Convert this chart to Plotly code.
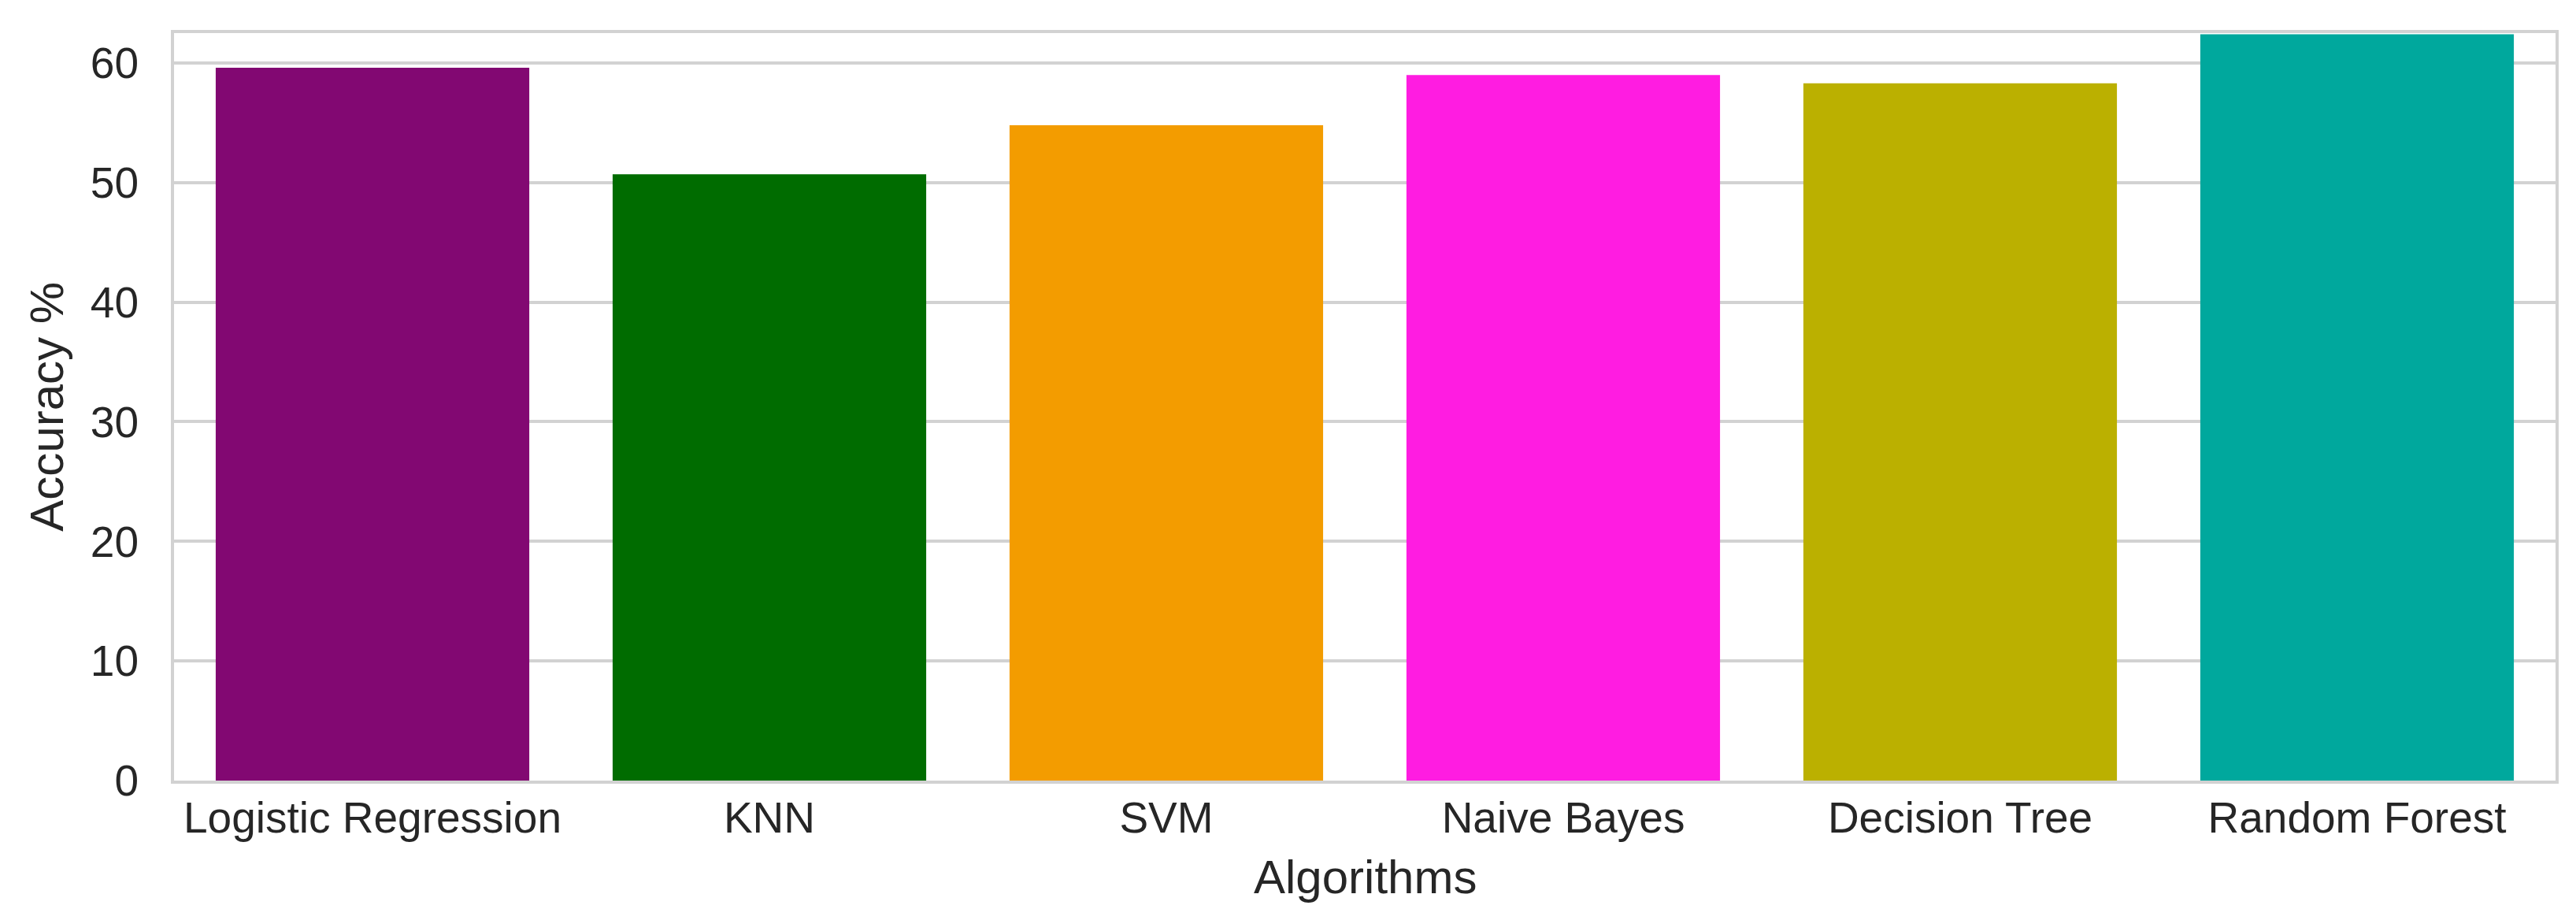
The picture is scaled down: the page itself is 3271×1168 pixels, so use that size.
import plotly.graph_objects as go

algorithms = ["Logistic Regression", "KNN", "SVM", "Naive Bayes", "Decision Tree", "Random Forest"]
accuracy = [59.6, 50.7, 54.8, 59.0, 58.3, 62.4]
bar_colors = ["#820872", "#006c00", "#f39c00", "#ff1ce1", "#bbb000", "#00a89d"]
y_ticks = [0, 10, 20, 30, 40, 50, 60]

text_color = "#262626"
grid_color = "#d2d2d2"
font_family = "Liberation Sans, Arial, sans-serif"

fig = go.Figure(
    go.Bar(
        x=algorithms,
        y=accuracy,
        marker=dict(color=bar_colors, line=dict(width=0)),
        width=0.79,
    )
)

fig.update_layout(
    width=3271,
    height=1168,
    margin=dict(l=213, r=34, t=34, b=185, autoexpand=False),
    paper_bgcolor="white",
    plot_bgcolor="white",
    font=dict(family=font_family, color=text_color, size=55),
    showlegend=False,
    bargap=0.2,
    annotations=[
        dict(text="Algorithms", xref="paper", yref="paper", x=0.5, y=-0.129,
             xanchor="center", yanchor="middle", showarrow=False,
             font=dict(size=60, color=text_color)),
        dict(text="Accuracy %", xref="paper", yref="paper", x=-0.0535, y=0.5,
             xanchor="center", yanchor="middle", showarrow=False, textangle=-90,
             font=dict(size=60, color=text_color)),
    ],
)

fig.update_xaxes(
    range=[-0.5, 5.5],
    showgrid=False,
    showline=True,
    mirror=True,
    linecolor=grid_color,
    linewidth=4,
    ticks="",
    tickfont=dict(size=55, color=text_color),
    ticklabelstandoff=-4,
    automargin=False,
)

fig.update_yaxes(
    range=[0, 62.5],
    tickvals=y_ticks,
    showgrid=True,
    gridcolor=grid_color,
    gridwidth=4,
    zeroline=False,
    showline=True,
    mirror=True,
    linecolor=grid_color,
    linewidth=4,
    ticks="",
    tickfont=dict(size=55, color=text_color),
    ticklabelstandoff=30,
    automargin=False,
)

fig.write_html("out.html")
